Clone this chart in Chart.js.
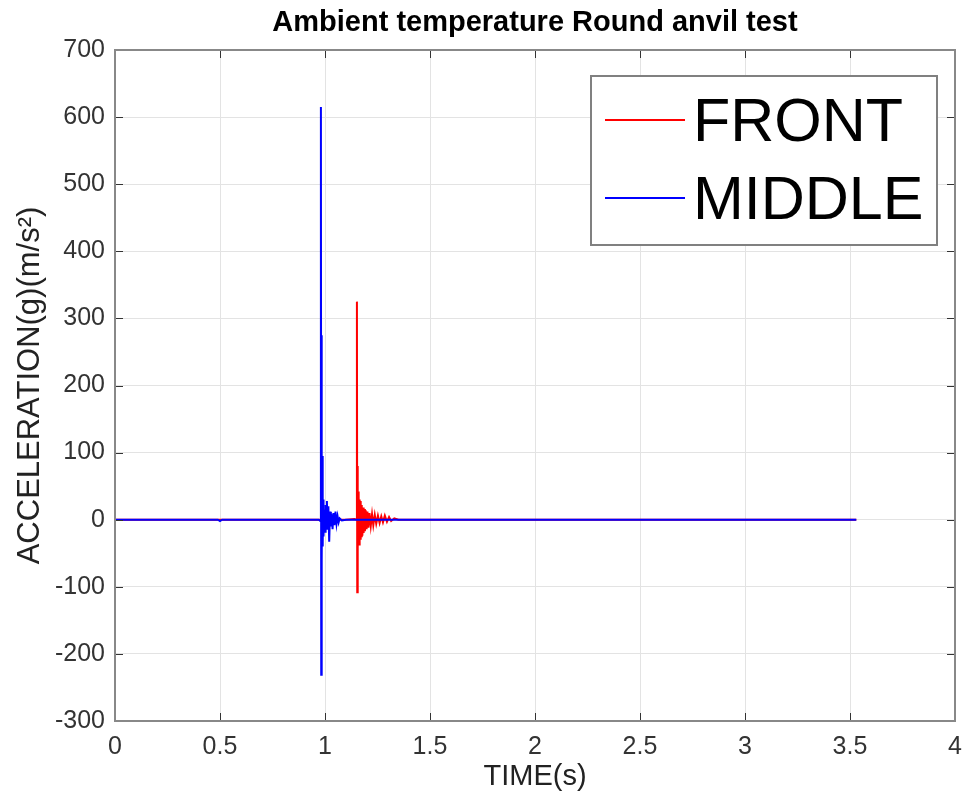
<!DOCTYPE html>
<html>
<head>
<meta charset="utf-8">
<script src="https://cdn.jsdelivr.net/npm/chart.js@4/dist/chart.umd.min.js"></script>
<style>
  body { margin: 0; background: #fff; }
  #wrap { position: relative; width: 963px; height: 798px; }
  #legenda {
    position: absolute; left: 590px; top: 75px; width: 344px; height: 163px;
    border: 2px solid #808080; background: #fff; padding-top: 4px; box-sizing: content-box;
    font-family: 'Liberation Sans', Arial, sans-serif; font-size: 61px; color: #000;
  }
  .linha { display: flex; align-items: center; height: 78px; line-height: 1; }
  .traco { width: 80px; height: 2px; margin-left: 13px; margin-right: 8px; }
</style>
</head>
<body>
<div id="wrap">
  <canvas id="grafico" width="963" height="798"></canvas>
  <div id="legenda"></div>
</div>
<script>
// FRONT (vermelho)
const tempoFront = [0, 0.4, 0.8, 1.1, 1.14, 1.15, 1.152, 1.1535, 1.155, 1.1565, 1.158, 1.1595, 1.161, 1.1625,
  1.164, 1.166, 1.168, 1.17, 1.172, 1.174, 1.176, 1.178, 1.181, 1.184, 1.187, 1.19, 1.194, 1.198, 1.202, 1.207,
  1.212, 1.218, 1.224, 1.23, 1.237, 1.244, 1.252, 1.26, 1.268, 1.276, 1.285, 1.295, 1.305, 1.315, 1.33, 1.35,
  1.8, 2.4, 3.0, 3.53];
const aceleracaoFront = [0, 0, 0, 0, 1, 0, 325, -108, 80, -45, 42, -38, 35, -37,
  30, -32, 28, -30, 22, -26, 20, -24, 18, -20, 16, -17, 14, -14, 12, -12,
  10, -9, 8, -8, 7, -6, 6, -5, 5, -4, 6, -3, 4, -2, 2, 0,
  0, 0, 0, 0];

// MIDDLE (azul)
const tempoMiddle = [0, 0.49, 0.5, 0.51, 0.9, 0.97, 0.978, 0.9805, 0.982, 0.9835, 0.985, 0.987,
  0.989, 0.991, 0.993, 0.996, 1.0, 1.003, 1.006, 1.009, 1.012, 1.016, 1.02, 1.024, 1.028, 1.032, 1.036, 1.04,
  1.045, 1.05, 1.055, 1.06, 1.065, 1.07, 1.08, 1.1, 1.6, 2.2, 2.8, 3.53];
const aceleracaoMiddle = [0, 0, -2, 0, 0, 0, -2, 615, -231, 275, -60, 95,
  -40, 30, -25, 15, -18, 22, -12, 28, -15, 20, -33, 12, -10, 8, -14, 10,
  -8, 12, -6, 5, -4, 2, -1, 0, 0, 0, 0, 0];

const valoresY = { min: -300, max: 700, passo: 100 };
const valoresX = { min: 0, max: 4, passo: 0.5 };

const fonte = "'Liberation Sans', Arial, sans-serif";

// moldura e ticks internos (estilo MATLAB)
const moldura = {
  id: 'moldura',
  afterDatasetsDraw(chart) {
    const { ctx, chartArea: a, scales: { x, y } } = chart;
    ctx.save();
    ctx.strokeStyle = '#333';
    ctx.lineWidth = 1;
    ctx.beginPath();
    x.ticks.forEach(t => {
      const px = Math.round(x.getPixelForValue(t.value)) + 0.5;
      ctx.moveTo(px, a.bottom); ctx.lineTo(px, a.bottom - 8);
      ctx.moveTo(px, a.top); ctx.lineTo(px, a.top + 8);
    });
    y.ticks.forEach(t => {
      const py = Math.round(y.getPixelForValue(t.value)) + 0.5;
      ctx.moveTo(a.left, py); ctx.lineTo(a.left + 8, py);
      ctx.moveTo(a.right, py); ctx.lineTo(a.right - 8, py);
    });
    ctx.stroke();
    ctx.strokeStyle = '#888';
    ctx.lineWidth = 2;
    ctx.strokeRect(a.left, a.top, a.right - a.left, a.bottom - a.top);
    ctx.restore();
  }
};

const ctxGrafico = document.getElementById('grafico').getContext('2d');
const meuGrafico = new Chart(ctxGrafico, {
  type: 'line',
  data: {
    datasets: [{
      label: 'FRONT',
      data: tempoFront.map((t, i) => ({ x: t, y: aceleracaoFront[i] })),
      borderColor: '#ff0000',
      backgroundColor: '#ff0000',
      borderWidth: 2,
      pointRadius: 0,
      order: 2,
    }, {
      label: 'MIDDLE',
      data: tempoMiddle.map((t, i) => ({ x: t, y: aceleracaoMiddle[i] })),
      borderColor: '#0000ff',
      backgroundColor: '#0000ff',
      borderWidth: 2,
      pointRadius: 0,
      order: 1,
    }]
  },
  options: {
    responsive: false,
    animation: false,
    layout: { padding: { left: 0, right: 8, top: 0, bottom: 0 } },
    scales: {
      x: {
        type: 'linear',
        min: valoresX.min,
        max: valoresX.max,
        ticks: { stepSize: valoresX.passo, color: '#333', font: { family: fonte, size: 25 }, padding: 11, maxRotation: 0,
          callback: v => String(v) },
        grid: { color: '#e3e3e3', drawTicks: false },
        border: { display: false },
        title: { display: true, text: 'TIME(s)', color: '#222', font: { family: fonte, size: 29 }, padding: { top: 4, bottom: 4 } },
        afterFit: s => { s.height = 77; s.paddingLeft = 0; s.paddingRight = 0; }
      },
      y: {
        min: valoresY.min,
        max: valoresY.max,
        ticks: { stepSize: valoresY.passo, color: '#333', font: { family: fonte, size: 25 }, padding: 10,
          callback: v => String(v) },
        grid: { color: '#e3e3e3', drawTicks: false },
        border: { display: false },
        title: { display: true, text: 'ACCELERATION(g)(m/s²)', color: '#222', font: { family: fonte, size: 31 }, padding: { top: 12, bottom: 12 } },
        afterFit: s => { s.width = 115; }
      }
    },
    plugins: {
      legend: { display: false },
      tooltip: { enabled: false },
      title: {
        display: true,
        fullSize: false,
        text: 'Ambient temperature Round anvil test',
        color: '#000',
        font: { family: fonte, size: 29, weight: 'bold', lineHeight: 1 },
        padding: { top: 8, bottom: 13 }
      }
    }
  },
  plugins: [moldura]
});

// legenda em HTML, dentro da área do gráfico
const legenda = document.getElementById('legenda');
meuGrafico.data.datasets.forEach(ds => {
  const linha = document.createElement('div');
  linha.className = 'linha';
  const traco = document.createElement('span');
  traco.className = 'traco';
  traco.style.background = ds.borderColor;
  const texto = document.createElement('span');
  texto.textContent = ds.label;
  linha.appendChild(traco);
  linha.appendChild(texto);
  legenda.appendChild(linha);
});
</script>
</body>
</html>
